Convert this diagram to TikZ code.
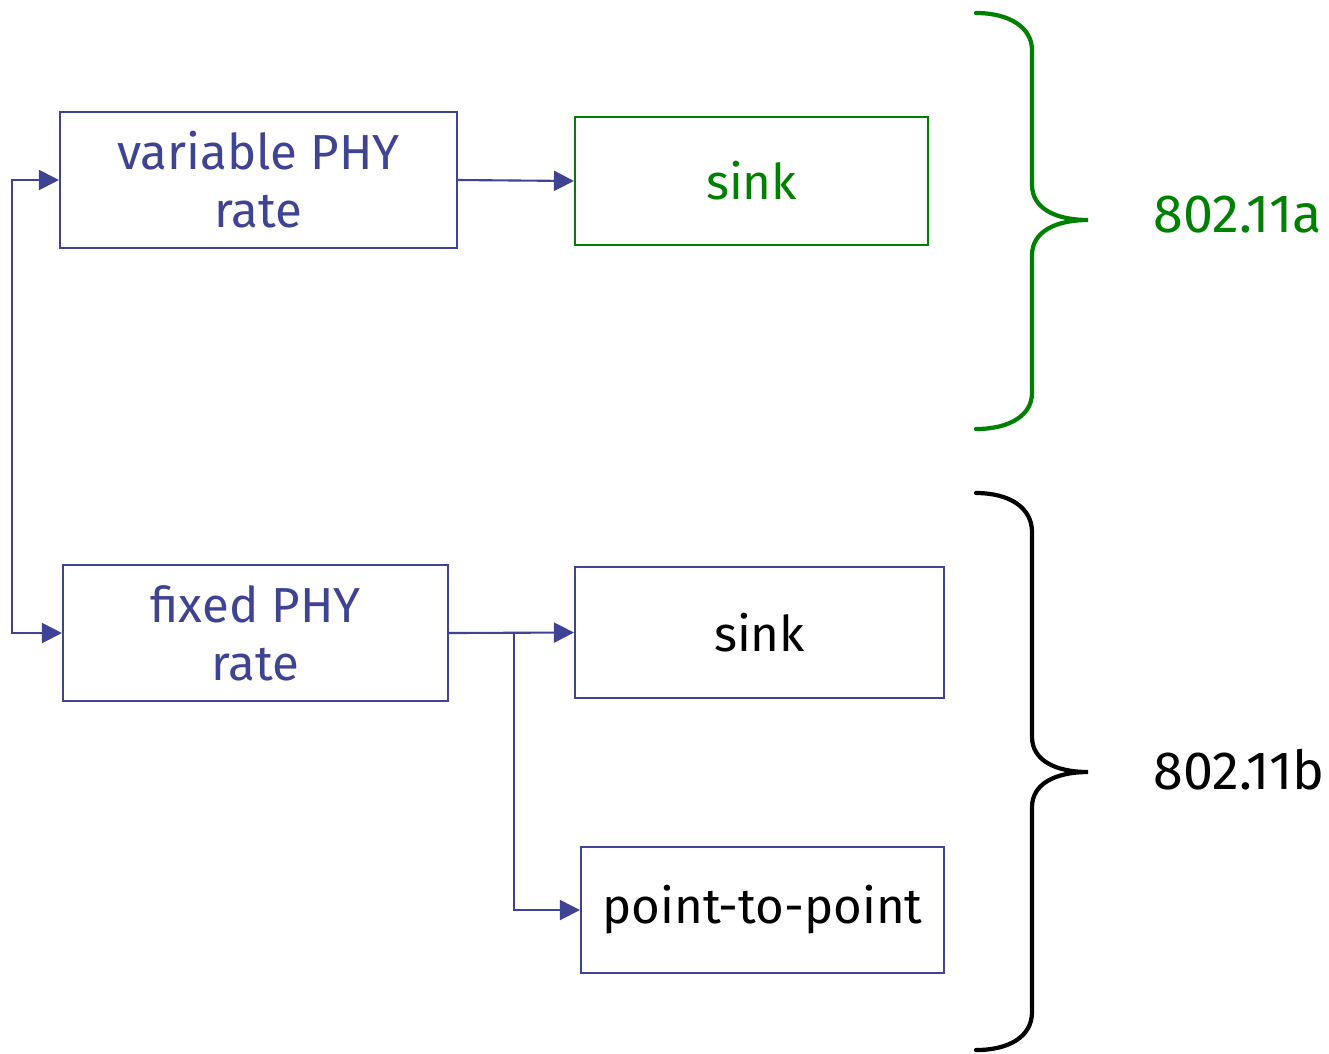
\documentclass[tikz,border=0pt]{standalone}
\usepackage{fontspec}
\setmainfont{Fira Sans}
\usepackage{xcolor}
\usepackage{tikz}
\usetikzlibrary{arrows.meta}
\definecolor{linkblue}{HTML}{3F4393}
\definecolor{stdgreen}{HTML}{008000}

\tikzset{
  block/.style={draw=linkblue, line width=0.6pt, inner sep=0pt, align=center,
    font=\fontsize{14}{16.5}\selectfont},
  flow/.style={draw=linkblue, line width=0.6pt, -{Triangle[length=2mm,width=2mm]}},
  curly/.style={line width=1.2pt, line cap=round}
}

\begin{document}
\begin{tikzpicture}
  \useasboundingbox (0,0) rectangle (13.29,-10.53);

  % rate blocks on the left
  \node[block, text=linkblue, minimum width=3.97cm, minimum height=1.36cm] (varrate) at (2.585,-1.80) {variable PHY\\rate};
  \node[block, text=linkblue, minimum width=3.85cm, minimum height=1.36cm] (fixrate) at (2.555,-6.33) {fixed PHY\\rate};

  % targets on the right
  \node[block, draw=stdgreen, text=stdgreen, minimum width=3.53cm, minimum height=1.28cm] (sinka) at (7.515,-1.81) {sink};
  \node[block, minimum width=3.69cm, minimum height=1.31cm] (sinkb) at (7.595,-6.325) {sink};
  \node[block, minimum width=3.63cm, minimum height=1.26cm] (ptp) at (7.625,-9.10) {point-to-point};

  \coordinate (spine) at (0.12,-1.80);
  \coordinate (split) at (5.14,-6.33);

  \draw[flow, {Triangle[length=2mm,width=2mm]}-{Triangle[length=2mm,width=2mm]}] (varrate.west) -- (spine) |- (fixrate.west);
  \draw[flow] (varrate.east) -- (sinka.west);
  \draw[flow] (fixrate.east) -- (sinkb.west);
  \draw[flow] (split) |- (ptp.west);

  % braces
  \draw[curly, stdgreen] (9.76,-0.13) .. controls (10.10,-0.13) and (10.32,-0.28) .. (10.32,-0.50)
    -- (10.32,-1.85) .. controls (10.32,-2.08) and (10.55,-2.20) .. (10.88,-2.20)
    .. controls (10.55,-2.20) and (10.32,-2.32) .. (10.32,-2.55)
    -- (10.32,-3.93) .. controls (10.32,-4.15) and (10.10,-4.29) .. (9.76,-4.29);
  \draw[curly, black] (9.76,-4.93) .. controls (10.10,-4.93) and (10.32,-5.08) .. (10.32,-5.32)
    -- (10.32,-7.37) .. controls (10.32,-7.60) and (10.55,-7.72) .. (10.88,-7.72)
    .. controls (10.55,-7.72) and (10.32,-7.84) .. (10.32,-8.07)
    -- (10.32,-10.12) .. controls (10.32,-10.36) and (10.10,-10.50) .. (9.76,-10.50);

  \node[anchor=west, inner sep=0pt, text=stdgreen, font=\fontsize{15.3}{16.5}\selectfont] (laba) at (11.53,-2.15) {802.11a};
  \node[anchor=west, inner sep=0pt, font=\fontsize{15.3}{16.5}\selectfont] (labb) at (11.53,-7.70) {802.11b};
\end{tikzpicture}
\end{document}
